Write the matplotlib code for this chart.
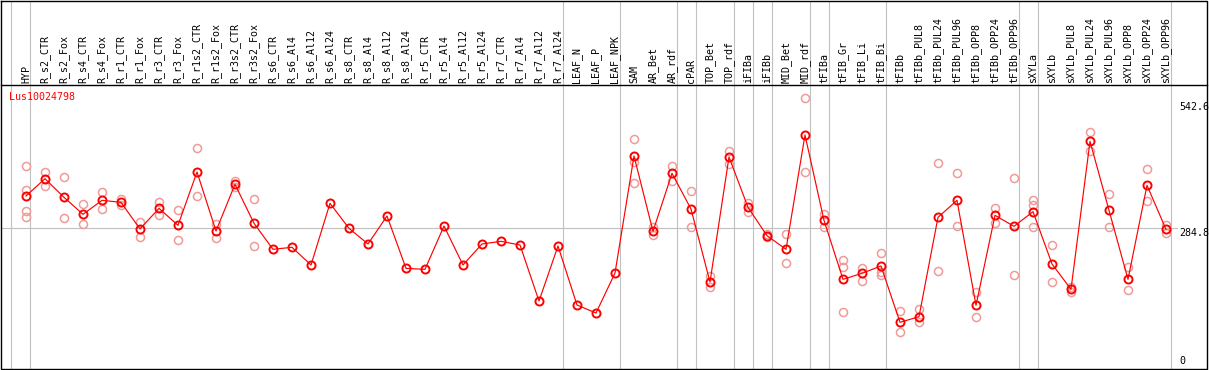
import matplotlib
matplotlib.use("Agg")
import matplotlib.pyplot as plt

# sample names, left to right
samples = [
    "HYP", "R_s2_CTR", "R_s2_Fox", "R_s4_CTR", "R_s4_Fox", "R_r1_CTR", "R_r1_Fox",
    "R_r3_CTR", "R_r3_Fox", "R_r1s2_CTR", "R_r1s2_Fox", "R_r3s2_CTR", "R_r3s2_Fox",
    "R_s6_CTR", "R_s6_Al4", "R_s6_Al12", "R_s6_Al24", "R_s8_CTR", "R_s8_Al4",
    "R_s8_Al12", "R_s8_Al24", "R_r5_CTR", "R_r5_Al4", "R_r5_Al12", "R_r5_Al24",
    "R_r7_CTR", "R_r7_Al4", "R_r7_Al12", "R_r7_Al24", "LEAF_N", "LEAF_P", "LEAF_NPK",
    "SAM", "AR_Bet", "AR_rdf", "cPAR", "TOP_Bet", "TOP_rdf", "iFIBa", "iFIBb",
    "MID_Bet", "MID_rdf", "tFIBa", "tFIB_Gr", "tFIB_Li", "tFIB_Bi", "tFIBb",
    "tFIBb_PUL8", "tFIBb_PUL24", "tFIBb_PUL96", "tFIBb_OPP8", "tFIBb_OPP24", "tFIBb_OPP96",
    "sXYLa", "sXYLb", "sXYLb_PUL8", "sXYLb_PUL24", "sXYLb_PUL96",
    "sXYLb_OPP8", "sXYLb_OPP24", "sXYLb_OPP96",
]

# mean expression per sample
means = [
    347.8, 382.3, 345.2, 311.3, 339.2, 335.2, 282.1, 323.2, 289.4, 395.6, 278.1, 371.1, 293.4,
    241.6, 245.6, 210.4, 333.2, 283.4, 252.2, 308.0, 203.7, 201.7, 288.0, 210.4, 252.2,
    257.5, 250.2, 138.6, 248.2, 130.7, 114.7, 194.4,
    427.5, 277.4, 393.0, 321.9, 176.5, 425.5, 325.2, 268.8, 241.6, 469.3,
    299.3, 181.8, 193.8, 208.4, 96.2, 107.4, 305.3, 339.2, 130.0, 309.3, 287.4,
    316.6, 212.4, 161.9, 456.7, 319.3, 181.8, 369.1, 281.4,
]

# individual replicates (empty where only the mean is visible)
replicates = [
    [406.9, 359.8, 317.9, 305.3], [395.6, 368.4], [385.0, 303.3], [331.2, 291.4],
    [355.1, 321.3], [341.8, 329.9], [295.4, 265.5], [335.2, 310.0], [319.3, 259.5],
    [442.8, 347.1], [292.0, 264.8], [378.4, 365.1], [341.2, 247.5],
    [], [], [], [], [], [], [], [], [], [], [], [], [], [], [], [], [], [], [],
    [461.4, 415.5, 373.7], [285.4, 270.8], [407.6, 377.0], [357.8, 285.4],
    [188.4, 165.9], [437.5, 411.6], [334.5, 316.6], [271.5, 266.1], [271.5, 213.7],
    [542.4, 395.0], [312.0, 286.7], [220.3, 207.0, 116.7], [204.4, 177.8],
    [233.6, 197.1, 190.4], [118.7, 76.2], [122.7, 96.2], [413.5, 197.7], [393.0, 287.4],
    [156.6, 106.1], [323.2, 293.4], [383.0, 189.8], [339.8, 329.9, 286.1],
    [249.5, 175.8], [167.2, 156.6], [474.6, 437.5], [351.1, 286.1], [206.4, 159.9],
    [400.9, 337.2], [290.0, 273.5],
]

# group separators drawn right after these sample indices
group_ends = [-1, 0, 28, 31, 34, 35, 37, 38, 39, 41, 42, 45, 52, 53, 60]

gene = "Lus10024798"
y_max = 542.6
y_mid = 284.8
y_min = 0

# pixel layout of the 1209x370 picture
W, H = 1209, 370
X0, DX = 26, 19          # first column centre, column pitch
Y0, KY = 370.6, 0.502    # pixel row of value 0, pixels per unit


def px2x(px):
    return (px - X0) / DX


def px2y(py):
    return (Y0 - py) / KY


fig = plt.figure(figsize=(W / 100, H / 100), dpi=100)
ax = fig.add_axes([0, 0, 1, 1])
ax.set_xlim(px2x(0), px2x(W))
ax.set_ylim(px2y(H), px2y(0))
ax.axis("off")

mono = "DejaVu Sans Mono"
fs = 7.2
grid = "#c0c0c0"

# frame, header separator, mean line
top, bottom = px2y(0.5), px2y(369)
left, right = px2x(1.5), px2x(1207)
ax.plot([left, right, right, left, left], [top, top, bottom, bottom, top],
        color="black", lw=1.0, zorder=5)
ax.plot([left, right], [px2y(85), px2y(85)], color="black", lw=1.0, zorder=5)
for g in group_ends:
    ax.plot([g + 4.5 / DX] * 2, [top, bottom], color=grid, lw=0.8, zorder=1)
ax.plot([left, px2x(1177)], [y_mid, y_mid], color=grid, lw=0.8, zorder=1)

xs = list(range(len(samples)))
for i, name in enumerate(samples):
    ax.text(i, px2y(83), name, rotation=90, ha="center", va="bottom",
            family=mono, fontsize=fs, color="black")

rx = [i for i, r in enumerate(replicates) for _ in r]
ry = [v for r in replicates for v in r]
ax.plot(rx, ry, "o", ms=5.8, mfc="none", mec="#f09a9a", mew=1.1, zorder=2)
ax.plot(xs, means, "-", color="red", lw=0.85, zorder=3)
ax.plot(xs, means, "o", ms=5.8, mfc="none", mec="red", mew=1.4, zorder=4)

ax.text(px2x(9), px2y(97), gene, color="red", family=mono, fontsize=fs,
        ha="left", va="center")
ax.text(px2x(1179), px2y(107), f"{y_max}", family=mono, fontsize=fs, ha="left", va="center")
ax.text(px2x(1179), px2y(232.5), f"{y_mid}", family=mono, fontsize=fs, ha="left", va="center")
ax.text(px2x(1179), px2y(361.5), f"{y_min}", family=mono, fontsize=fs, ha="left", va="center")

fig.savefig("out.png", dpi=100)
